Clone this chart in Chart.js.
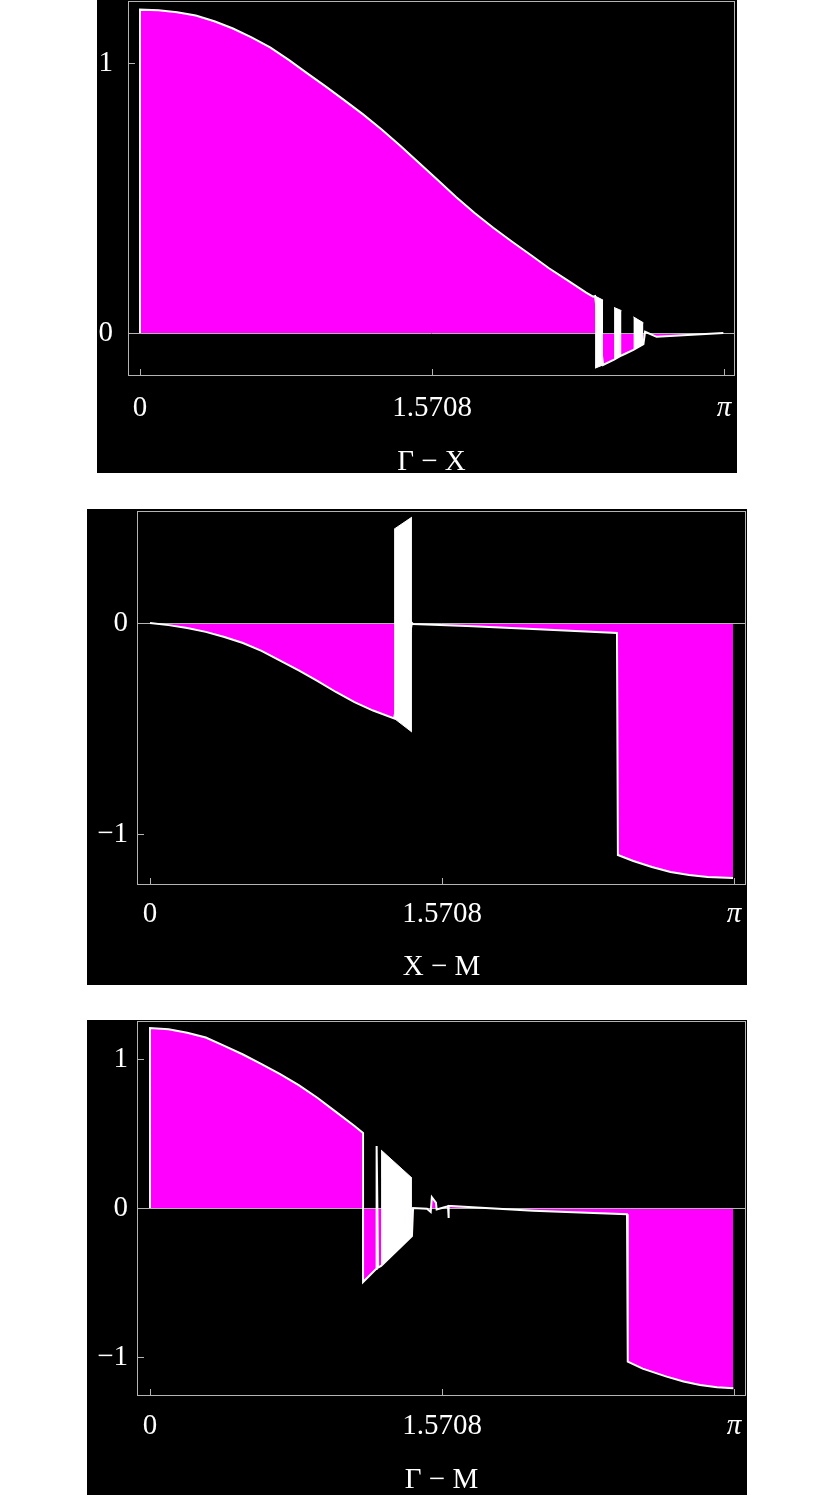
<!DOCTYPE html>
<html lang="en">
  <head>
    <meta charset="UTF-8" />
    <title>Band curves along Γ-X, X-M, Γ-M</title>
    <style>
      body {
        margin: 0;
        background: #fff;
        width: 832px;
        height: 1495px;
        position: relative;
        overflow: hidden;
      }
      .panel {
        position: absolute;
        background: #000;
      }
      .panel canvas {
        display: block;
      }
    </style>
    <script src="https://cdn.jsdelivr.net/npm/chart.js"></script>
  </head>
  <body>
    <div class="panel" style="left:97px;top:0;width:640px;height:473px"><canvas id="gx" width="640" height="473"></canvas></div>
    <div class="panel" style="left:87px;top:509px;width:660px;height:476px"><canvas id="xm" width="660" height="476"></canvas></div>
    <div class="panel" style="left:87px;top:1020px;width:660px;height:475px"><canvas id="gm" width="660" height="475"></canvas></div>
    <script>
      const xTicks = [0, 1.5708, 3.14159];
      const xTickLabels = ["0", "1.5708", "π"];

      // Γ − X
      const gxK = [0, 0, 0.1, 0.2, 0.3, 0.4, 0.5, 0.6, 0.7, 0.8, 0.9, 1.0, 1.1, 1.2, 1.3, 1.4, 1.5, 1.6, 1.7, 1.8, 1.9, 2.0, 2.1, 2.2, 2.3, 2.4, 2.437, 2.448, 2.491, 2.550, 2.590, 2.654, 2.708, 2.717, 2.779, 3.138];
      const gxV = [0, 1.198, 1.196, 1.188, 1.176, 1.155, 1.128, 1.095, 1.058, 1.012, 0.962, 0.913, 0.862, 0.810, 0.754, 0.694, 0.631, 0.568, 0.504, 0.445, 0.390, 0.339, 0.290, 0.240, 0.195, 0.150, 0.135, 0.137, -0.118, -0.098, -0.083, -0.062, -0.041, 0.005, -0.014, 0];
      const gxBandK = [[2.448, 2.491], [2.550, 2.590], [2.654, 2.708]];
      const gxBandTop = [[0.137, 0.122], [0.095, 0.083], [0.060, 0.038]];
      const gxBandBottom = [[-0.130, -0.118], [-0.098, -0.083], [-0.062, -0.041]];
      const gxYTicks = [0, 1];
      const gxYLabels = ["0", "1"];

      // X − M
      const xmK = [0, 0.1, 0.2, 0.3, 0.4, 0.5, 0.6, 0.7, 0.8, 0.9, 1.0, 1.1, 1.2, 1.313, 1.409, 1.415, 1.705, 2.060, 2.512, 2.517, 2.6, 2.7, 2.8, 2.9, 3.0, 3.136];
      const xmV = [0, -0.010, -0.024, -0.042, -0.066, -0.095, -0.132, -0.178, -0.225, -0.274, -0.327, -0.375, -0.415, -0.452, 0, -0.005, -0.014, -0.028, -0.047, -1.100, -1.128, -1.157, -1.180, -1.195, -1.204, -1.209];
      const xmBandK = [[1.313, 1.409]];
      const xmBandTop = [[0.445, 0.502]];
      const xmBandBottom = [[-0.452, -0.517]];
      const xmYTicks = [-1, 0];
      const xmYLabels = ["−1", "0"];

      // Γ − M
      const gmK = [0, 0, 0.1, 0.2, 0.3, 0.4, 0.5, 0.6, 0.7, 0.8, 0.9, 1.0, 1.1, 1.146, 1.146, 1.216, 1.219, 1.227, 1.243, 1.409, 1.415, 1.490, 1.510, 1.516, 1.538, 1.542, 1.598, 1.603, 1.605, 1.608, 1.620, 2.060, 2.566, 2.570, 2.65, 2.779, 2.87, 2.959, 3.05, 3.138];
      const gmV = [0, 1.208, 1.200, 1.176, 1.144, 1.088, 1.030, 0.966, 0.898, 0.825, 0.740, 0.645, 0.550, 0.503, -0.497, -0.410, 0.416, -0.400, -0.389, -0.188, 0, -0.005, -0.027, 0.072, 0.036, -0.010, 0.010, 0.012, -0.067, 0.013, 0.013, -0.018, -0.042, -1.031, -1.078, -1.132, -1.165, -1.188, -1.203, -1.210];
      const gmBandK = [[1.243, 1.409]];
      const gmBandTop = [[0.389, 0.201]];
      const gmBandBottom = [[-0.389, -0.188]];
      const gmYTicks = [-1, 0, 1];
      const gmYLabels = ["−1", "0", "1"];

      const magenta = "#ff00ff";
      const frameColor = "#b4b4b4";
      const serif = "'Liberation Serif', 'Times New Roman', serif";

      const framePlugin = {
        id: "frame",
        beforeDatasetDraw(chart, args) {
          if (args.index !== 0) return;
          const { ctx, chartArea: a } = chart;
          const y0 = Math.round(chart.scales.y.getPixelForValue(0)) + 0.5;
          ctx.save();
          ctx.strokeStyle = frameColor;
          ctx.lineWidth = 1;
          ctx.beginPath();
          ctx.moveTo(a.left, y0);
          ctx.lineTo(a.right, y0);
          ctx.stroke();
          ctx.restore();
        },
        afterDatasetsDraw(chart) {
          const { ctx, chartArea: a } = chart;
          const { x, y } = chart.scales;
          ctx.save();
          ctx.strokeStyle = frameColor;
          ctx.lineWidth = 1;
          ctx.strokeRect(a.left + 0.5, a.top + 0.5, a.right - a.left - 1, a.bottom - a.top - 1);
          ctx.beginPath();
          x.ticks.forEach(t => {
            const px = Math.round(x.getPixelForValue(t.value)) + 0.5;
            ctx.moveTo(px, a.bottom);
            ctx.lineTo(px, a.bottom - 7);
          });
          y.ticks.forEach(t => {
            const py = Math.round(y.getPixelForValue(t.value)) + 0.5;
            ctx.moveTo(a.left, py);
            ctx.lineTo(a.left + 7, py);
          });
          ctx.stroke();
          ctx.restore();
        }
      };

      // keep labels from pushing the plot frame inwards
      function noEdgePadding(s) {
        s.paddingTop = 0;
        s.paddingBottom = 0;
        s.paddingLeft = 0;
        s.paddingRight = 0;
      }

      function makePanel(id, kArr, vArr, bandK, bandTop, bandBottom, yTicks, yLabels, title, lay) {
        const datasets = [{
          data: kArr.map((k, i) => ({ x: k, y: vArr[i] })),
          borderColor: "#fff",
          borderWidth: 2,
          backgroundColor: magenta,
          fill: "origin",
          pointRadius: 0,
          tension: 0,
          order: 1
        }];
        bandK.forEach((ks, i) => {
          datasets.push({
            data: ks.map((k, j) => ({ x: k, y: bandTop[i][j] })),
            borderColor: "#fff",
            borderWidth: 1,
            backgroundColor: "#fff",
            fill: { target: datasets.length + 1 },
            pointRadius: 0,
            order: 0
          });
          datasets.push({
            data: ks.map((k, j) => ({ x: k, y: bandBottom[i][j] })),
            borderColor: "#fff",
            borderWidth: 1,
            fill: false,
            pointRadius: 0,
            order: 0
          });
        });

        return new Chart(document.getElementById(id), {
          type: "line",
          data: { datasets },
          plugins: [framePlugin],
          options: {
            responsive: false,
            maintainAspectRatio: false,
            devicePixelRatio: 1,
            animation: false,
            layout: { padding: { top: lay.top, right: lay.right, left: 0, bottom: 0 } },
            plugins: { legend: { display: false }, tooltip: { enabled: false } },
            scales: {
              x: {
                type: "linear",
                min: lay.xMin,
                max: lay.xMax,
                grid: { display: false, drawTicks: false },
                border: { display: false },
                afterBuildTicks: s => { s.ticks = xTicks.map(v => ({ value: v })); },
                afterFit: s => { s.height = lay.xHeight; noEdgePadding(s); },
                ticks: {
                  color: "#fff",
                  padding: lay.xPad,
                  autoSkip: false,
                  maxRotation: 0,
                  font: c => ({ family: serif, size: 29, lineHeight: 1, style: c.tick && c.tick.value > 3 ? "italic" : "normal" }),
                  callback: (v, i) => xTickLabels[i]
                },
                title: {
                  display: true,
                  text: title,
                  color: "#fff",
                  font: { family: serif, size: 29, lineHeight: 0.75 },
                  padding: { top: 0, bottom: lay.titlePad }
                }
              },
              y: {
                min: lay.yMin,
                max: lay.yMax,
                grid: { display: false, drawTicks: false },
                border: { display: false },
                afterBuildTicks: s => { s.ticks = yTicks.map(v => ({ value: v })); },
                afterFit: s => { s.width = lay.yWidth; noEdgePadding(s); },
                ticks: {
                  color: "#fff",
                  padding: lay.yPad,
                  font: { family: serif, size: 29, lineHeight: 1 },
                  callback: (v, i) => yLabels[i]
                }
              }
            }
          }
        });
      }

      makePanel("gx", gxK, gxV, gxBandK, gxBandTop, gxBandBottom, gxYTicks, gxYLabels, "Γ − X",
        { top: 1, right: 2, xHeight: 97, yWidth: 31, xMin: -0.0645, xMax: 3.2006, yMin: -0.159, yMax: 1.230, xPad: 18, yPad: 15, titlePad: 0 });
      makePanel("xm", xmK, xmV, xmBandK, xmBandTop, xmBandBottom, xmYTicks, xmYLabels, "X − M",
        { top: 2, right: 1, xHeight: 100, yWidth: 50, xMin: -0.070, xMax: 3.206, yMin: -1.242, yMax: 0.531, xPad: 15, yPad: 9, titlePad: 7 });
      makePanel("gm", gmK, gmV, gmBandK, gmBandTop, gmBandBottom, gmYTicks, gmYLabels, "Γ − M",
        { top: 1, right: 1, xHeight: 99, yWidth: 50, xMin: -0.070, xMax: 3.206, yMin: -1.262, yMax: 1.255, xPad: 16, yPad: 9, titlePad: 4 });
    </script>
  </body>
</html>
